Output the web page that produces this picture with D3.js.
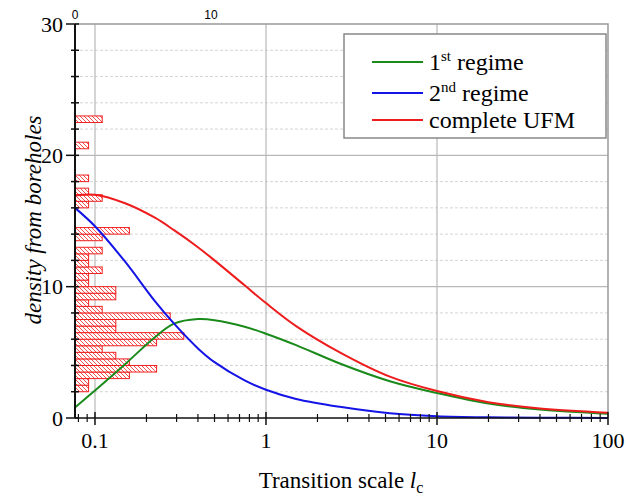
<!DOCTYPE html>
<html>
<head>
<meta charset="utf-8">
<script src="https://cdn.jsdelivr.net/npm/d3@7"></script>
<style>
  body { margin: 0; background: #fff; }
  svg { display: block; }
</style>
</head>
<body>
<svg id="chart" width="626" height="498"></svg>
<script>
// --------------------------------------------------------------------------
// data
// --------------------------------------------------------------------------
const lc = [0.0764, 0.1, 0.15, 0.224, 0.29, 0.4, 0.5, 0.75, 1.0, 1.5, 2.7, 5.3, 10, 20, 40, 100];
const regime1 = [0.8, 2.1, 4.1, 6.15, 7.18, 7.53, 7.45, 6.95, 6.42, 5.55, 4.15, 2.8, 1.9, 1.1, 0.65, 0.33];
const regime2 = [16.0, 14.6, 11.9, 8.9, 7.18, 5.3, 4.25, 2.86, 2.15, 1.45, 0.85, 0.36, 0.14, 0.05, 0.02, 0.0];
const completeUFM = [16.95, 17.0, 16.35, 15.25, 14.3, 13.0, 12.0, 10.1, 8.75, 7.0, 5.0, 3.15, 2.05, 1.2, 0.72, 0.4];

// histogram of borehole densities (bin lower edge, width 0.5) and counts
const binLow = [2.0, 2.5, 3.0, 3.5, 4.0, 4.5, 5.0, 5.5, 6.0, 6.5, 7.0, 7.5, 8.0, 8.5, 9.0, 9.5,
                10.0, 10.5, 11.0, 11.5, 12.0, 12.5, 13.5, 14.0, 16.0, 16.5, 17.0, 18.0, 20.5, 22.5];
const binCount = [1, 1, 4, 6, 4, 3, 2, 6, 8, 3, 3, 7, 2, 1, 3, 3,
                  1, 1, 2, 1, 1, 2, 2, 4, 1, 2, 1, 1, 1, 2];
const binWidth = 0.5;

const xTickValues = [0.1, 1, 10, 100];
const xTickLabels = ['0.1', '1', '10', '100'];
const yTickValues = [0, 10, 20, 30];
const countTicks = [0, 10];

const seriesNames = ['1st regime', '2nd regime', 'complete UFM'];
const seriesColors = ['#1a8a1a', '#1414e6', '#ee1c1c'];

// --------------------------------------------------------------------------
// layout
// --------------------------------------------------------------------------
const svg = d3.select('#chart');
const pL = 75, pR = 608, pT = 24, pB = 418;

const x = d3.scaleLog().domain([0.0764, 100]).range([pL, pR]);
const y = d3.scaleLinear().domain([0, 30]).range([pB, pT]);
const cnt = d3.scaleLinear().domain([0, 10]).range([pL, 211]);

const serif = '"Liberation Serif", "Times New Roman", serif';

// hatch pattern for the histogram bars
const defs = svg.append('defs');
const pat = defs.append('pattern')
    .attr('id', 'hatch')
    .attr('patternUnits', 'userSpaceOnUse')
    .attr('width', 4).attr('height', 4);
pat.append('rect').attr('width', 4).attr('height', 4).attr('fill', '#fff');
pat.append('path')
    .attr('d', 'M-1,-1 L5,5 M-1,3 L1,5 M3,-1 L5,1')
    .attr('stroke', '#f03a3a').attr('stroke-width', 0.9);

// grid
const grid = svg.append('g');
const minorY = d3.range(2, 30, 2).filter(v => v % 10 !== 0);
grid.selectAll('.gy-minor').data(minorY).enter().append('line')
    .attr('x1', pL).attr('x2', pR)
    .attr('y1', d => y(d)).attr('y2', d => y(d))
    .attr('stroke', '#d4d4d4').attr('stroke-dasharray', '3,2');
grid.selectAll('.gy-major').data([10, 20]).enter().append('line')
    .attr('x1', pL).attr('x2', pR)
    .attr('y1', d => y(d)).attr('y2', d => y(d))
    .attr('stroke', '#b8b8b8').attr('stroke-width', 1.2);
grid.selectAll('.gx').data([0.1, 1, 10]).enter().append('line')
    .attr('x1', d => x(d)).attr('x2', d => x(d))
    .attr('y1', pT).attr('y2', pB)
    .attr('stroke', '#b8b8b8').attr('stroke-width', 1.2);

// frame (top and right)
svg.append('path')
    .attr('d', `M${pL},${pT}H${pR}V${pB}`)
    .attr('fill', 'none').attr('stroke', '#999').attr('stroke-width', 1.5);

// histogram
svg.append('g').selectAll('rect')
    .data(binLow.map((lo, i) => ({ lo, n: binCount[i] })).filter(d => d.n > 0))
    .enter().append('rect')
    .attr('x', cnt(0))
    .attr('y', d => y(d.lo + binWidth))
    .attr('width', d => cnt(d.n) - cnt(0))
    .attr('height', d => y(d.lo) - y(d.lo + binWidth))
    .attr('fill', 'url(#hatch)')
    .attr('stroke', '#f02020').attr('stroke-width', 1);

// curves
const line = d3.line()
    .x(d => x(d[0])).y(d => y(d[1]))
    .curve(d3.curveCatmullRom.alpha(0.5));
[regime1, regime2, completeUFM].forEach((vals, i) => {
    svg.append('path')
        .datum(lc.map((v, j) => [v, vals[j]]))
        .attr('d', line)
        .attr('fill', 'none')
        .attr('stroke', seriesColors[i])
        .attr('stroke-width', 2);
});

// left axis
const yAxis = svg.append('g');
yAxis.append('line')
    .attr('x1', pL).attr('x2', pL).attr('y1', pT).attr('y2', pB)
    .attr('stroke', '#111').attr('stroke-width', 2);
yAxis.selectAll('.ytick').data(d3.range(0, 31, 2)).enter().append('line')
    .attr('x1', d => d % 10 === 0 ? pL - 9 : pL - 4)
    .attr('x2', pL + 4)
    .attr('y1', d => y(d)).attr('y2', d => y(d))
    .attr('stroke', '#111').attr('stroke-width', 1.5);
yAxis.selectAll('.ylab').data(yTickValues).enter().append('text')
    .attr('x', pL - 12).attr('y', d => y(d))
    .attr('dy', '0.35em').attr('text-anchor', 'end')
    .attr('font-family', serif).attr('font-size', 22)
    .text(d => d);

// bottom axis
const xAxis = svg.append('g');
xAxis.append('line')
    .attr('x1', pL).attr('x2', pR).attr('y1', pB).attr('y2', pB)
    .attr('stroke', '#111').attr('stroke-width', 1.5);
const minorX = [];
[0.01, 0.1, 1, 10].forEach(dec => {
    for (let k = 2; k <= 9; k++) minorX.push(dec * k);
});
xAxis.selectAll('.xminor')
    .data(minorX.filter(v => v >= x.domain()[0] && v <= 100))
    .enter().append('line')
    .attr('x1', d => x(d)).attr('x2', d => x(d))
    .attr('y1', pB - 4).attr('y2', pB + 4)
    .attr('stroke', '#111').attr('stroke-width', 1.2);
xAxis.selectAll('.xmajor').data(xTickValues).enter().append('line')
    .attr('x1', d => x(d)).attr('x2', d => x(d))
    .attr('y1', pB - 6).attr('y2', pB + 7)
    .attr('stroke', '#111').attr('stroke-width', 1.5);
xAxis.selectAll('.xlab').data(xTickValues).enter().append('text')
    .attr('x', d => x(d)).attr('y', pB + 30)
    .attr('text-anchor', 'middle')
    .attr('font-family', serif).attr('font-size', 22)
    .text((d, i) => xTickLabels[i]);

// top axis (histogram counts)
svg.selectAll('.ctop').data(countTicks).enter().append('text')
    .attr('x', d => cnt(d)).attr('y', 19)
    .attr('text-anchor', 'middle')
    .attr('font-family', 'Arial, "Liberation Sans", sans-serif').attr('font-size', 12)
    .text(d => d);

// axis titles
const xt = svg.append('text')
    .attr('x', 341).attr('y', 488)
    .attr('text-anchor', 'middle')
    .attr('font-family', serif).attr('font-size', 23);
xt.append('tspan').text('Transition scale ');
xt.append('tspan').attr('font-style', 'italic').text('l');
xt.append('tspan').attr('font-size', 16).attr('dy', 5).text('c');

svg.append('text')
    .attr('transform', 'translate(41,220) rotate(-90)')
    .attr('text-anchor', 'middle')
    .attr('font-family', serif).attr('font-size', 23)
    .attr('font-style', 'italic')
    .text('density from boreholes');

// legend
const lg = svg.append('g');
lg.append('rect')
    .attr('x', 344).attr('y', 34).attr('width', 262).attr('height', 104)
    .attr('fill', '#fff').attr('stroke', '#888').attr('stroke-width', 1.5);
const legendY = [62, 93, 120];
seriesNames.forEach((name, i) => {
    lg.append('line')
        .attr('x1', 372).attr('x2', 423)
        .attr('y1', legendY[i]).attr('y2', legendY[i])
        .attr('stroke', seriesColors[i]).attr('stroke-width', 2);
    const t = lg.append('text')
        .attr('x', 429).attr('y', legendY[i] + 8)
        .attr('font-family', serif).attr('font-size', 24);
    const m = name.match(/^(\d)(st|nd)(.*)$/);
    if (m) {
        t.append('tspan').text(m[1]);
        t.append('tspan').attr('font-size', 15).attr('dy', -9).text(m[2]);
        t.append('tspan').attr('dy', 9).text(m[3]);
    } else {
        t.text(name);
    }
});
</script>
</body>
</html>
